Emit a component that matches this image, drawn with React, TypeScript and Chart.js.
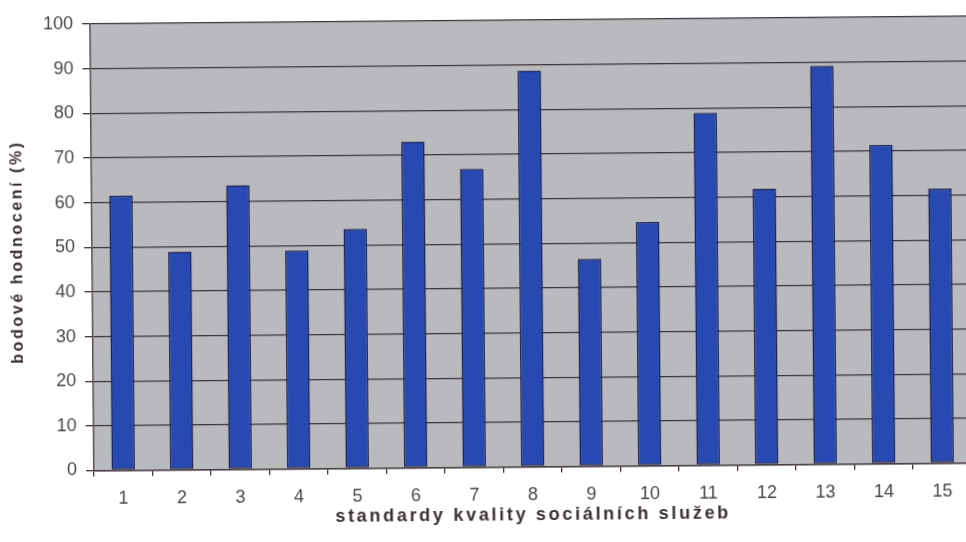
import React, { useEffect, useRef } from "react";
import { Chart, registerables } from "chart.js";

Chart.register(...registerables);

const categories = ["1", "2", "3", "4", "5", "6", "7", "8", "9", "10", "11", "12", "13", "14", "15"];
const scores = [61.5, 48.8, 63.6, 48.9, 53.6, 73.0, 66.8, 88.7, 46.4, 54.6, 78.9, 61.8, 89.2, 71.4, 61.5];
const yMin = 0;
const yMax = 100;
const yStep = 10;
const xTitle = "standardy kvality sociálních služeb";
const yTitle = "bodové hodnocení (%)";

const plotBackground = {
  id: "plotBackground",
  beforeDraw(chart: any) {
    const { ctx, chartArea } = chart;
    if (!chartArea) return;
    ctx.save();
    ctx.fillStyle = "#b9babe";
    ctx.fillRect(chartArea.left, chartArea.top, chartArea.right - chartArea.left, chartArea.bottom - chartArea.top);
    ctx.restore();
  },
};

const spacedTitles = {
  id: "spacedTitles",
  afterLayout(chart: any) {
    const specs: [string, number, string][] = [
      ["x", 0, "2.7px"],
      ["y", 4, "2.6px"],
    ];
    for (const [id, shift, spacing] of specs) {
      const s: any = chart.scales[id];
      if (!s || s._spacedPatched) continue;
      const orig = s.drawTitle.bind(s);
      s.drawTitle = function () {
        const ctx = this.ctx;
        ctx.save();
        try {
          (ctx as any).letterSpacing = spacing;
        } catch (e) {}
        ctx.translate(0, shift);
        orig();
        ctx.restore();
      };
      s._spacedPatched = true;
    }
  },
};

export default function App() {
  const canvasRef = useRef<HTMLCanvasElement | null>(null);

  useEffect(() => {
    const canvas = canvasRef.current;
    if (!canvas) return;
    const chart = new Chart(canvas, {
      type: "bar",
      data: {
        labels: categories,
        datasets: [
          {
            data: scores,
            backgroundColor: "#2649b2",
            borderColor: "#1c2152",
            borderWidth: 1.5,
            borderSkipped: false,
            categoryPercentage: 1,
            barPercentage: 0.4,
          },
        ],
      },
      options: {
        responsive: false,
        animation: false,
        devicePixelRatio: 1,
        layout: { padding: { top: 24, right: 18.5, bottom: 0, left: 0 } },
        plugins: {
          legend: { display: false },
          tooltip: { enabled: false },
        },
        scales: {
          x: {
            offset: true,
            afterFit(scale: any) {
              scale.height = 71.5;
            },
            grid: {
              offset: true,
              drawOnChartArea: false,
              drawTicks: true,
              tickLength: 6,
              color: "#3f3538",
              lineWidth: 1.3,
            },
            border: { display: true, color: "#4a3f43", width: 1.5 },
            ticks: {
              color: "#4a4548",
              font: { family: "'Liberation Sans', Arial, sans-serif", size: 18 },
              padding: 12,
              maxRotation: 0,
              autoSkip: false,
            },
            title: {
              display: true,
              text: xTitle,
              color: "#3a3034",
              font: { family: "'Liberation Sans', Arial, sans-serif", size: 18, weight: "bold" },
              padding: { top: 0, bottom: 12 },
            },
          },
          y: {
            min: yMin,
            max: yMax,
            afterFit(scale: any) {
              scale.width = 94;
            },
            ticks: {
              stepSize: yStep,
              color: "#4a4548",
              font: { family: "'Liberation Sans', Arial, sans-serif", size: 18 },
              padding: 9,
            },
            grid: {
              color: "#3f3538",
              lineWidth: 1.3,
              drawTicks: true,
              tickLength: 8,
            },
            border: { display: true, color: "#5a4f53", width: 1.5 },
            title: {
              display: true,
              text: yTitle,
              color: "#3a3034",
              font: { family: "'Liberation Sans', Arial, sans-serif", size: 16, weight: "bold" },
              padding: { top: 10, bottom: 0 },
            },
          },
        },
      },
      plugins: [plotBackground, spacedTitles],
    });
    return () => chart.destroy();
  }, []);

  return (
    <div
      style={{
        position: "fixed",
        left: 0,
        top: 0,
        width: 966,
        height: 542,
        overflow: "hidden",
        background: "#ffffff",
      }}
    >
      <canvas
        ref={canvasRef}
        width={990}
        height={542}
        style={{
          display: "block",
          width: 990,
          height: 542,
          transform: "rotate(-0.5deg)",
          transformOrigin: "94px 470px",
        }}
      />
    </div>
  );
}
